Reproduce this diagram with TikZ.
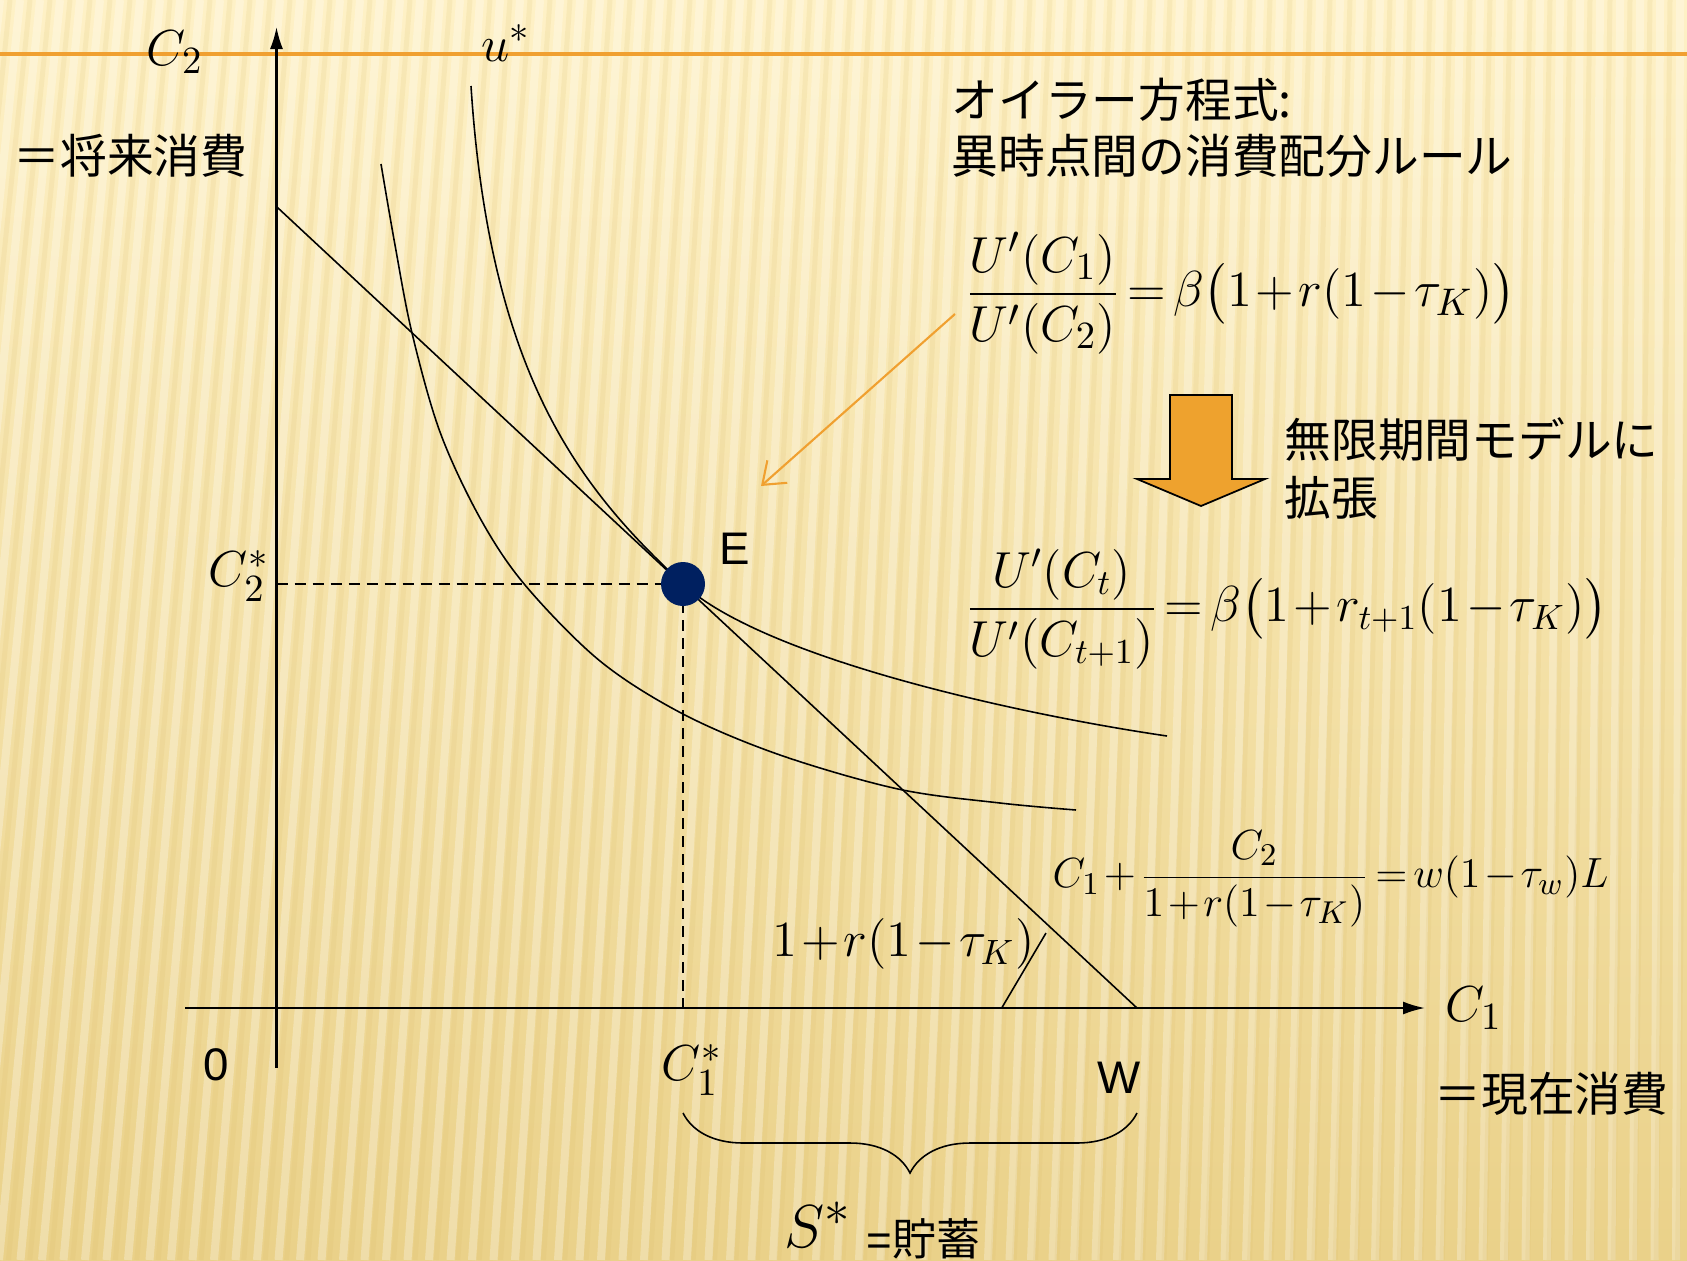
\documentclass[tikz,border=0pt]{standalone}
\usepackage{amsmath}
\usepackage{fontspec}
\setmainfont{Liberation Serif}
\setsansfont{Liberation Sans}
\newfontfamily\jpfont{Noto Sans CJK JP}
\usetikzlibrary{arrows.meta, decorations.pathreplacing, positioning}
\definecolor{corange}{HTML}{F0A030}
\definecolor{cblock}{HTML}{EEA22E}
\definecolor{cnavy}{HTML}{002060}
\definecolor{cbgtop}{HTML}{FEF1C6}
\definecolor{cbgmid}{HTML}{F8E6AE}
\definecolor{cbgbot}{HTML}{EAD189}
\definecolor{cstripe}{HTML}{D9B964}
\newcommand{\tightmath}{\medmuskip=1.5mu\thickmuskip=2.5mu}

\begin{document}
\begin{tikzpicture}[x=0.1mm, y=-0.1mm]
    \useasboundingbox (0,0) rectangle (1687,1260);
    \begin{scope}[
        axis/.style={line width=0.6pt, -{Latex[length=2.2mm, width=1.3mm]}},
        curve/.style={line width=0.45pt},
        guide/.style={line width=0.45pt, dash pattern=on 1.1mm off 0.7mm},
        jptext/.style={font=\jpfont\fontsize{13.3}{16}\selectfont, anchor=west, inner sep=0pt, align=left},
        eqtext/.style={font=\fontsize{15}{18}\selectfont\tightmath, inner sep=0pt},
        sftext/.style={font=\sffamily\fontsize{13}{16}\selectfont, inner sep=0pt},
        pointer/.style={draw=corange, line width=0.6pt, -{Straight Barb[length=2mm, width=3mm]}}
    ]
        % ================= BACKGROUND =================
        \shade[top color=cbgtop, middle color=cbgmid, bottom color=cbgbot] (0,0) rectangle (1687,1260);
        \begin{scope}
            \clip (0,0) rectangle (1687,1260);
            \foreach \i in {0,...,86} {
                \draw[white, opacity=0.28, line width=0.8mm] (\i*20-130+\i*1.5, 1260) -- (\i*20, 0);
                \draw[cstripe, opacity=0.14, line width=0.5mm] (\i*20-120+\i*1.4, 1260) -- (\i*20+10, 0);
            }
        \end{scope}
        \coordinate (tl) at (0,54);
        \coordinate (tr) at (1687,54);
        \draw[corange, line width=1.2pt] (tl) -- (tr);

        % ================= AXES =================
        \coordinate (O) at (276.5,1008);
        \coordinate (ytop) at (276.5,27);
        \coordinate (ybot) at (276.5,1068);
        \coordinate (xleft) at (185,1008);
        \coordinate (xright) at (1425,1008);
        \draw[axis] (ybot) -- (ytop);
        \draw[axis] (xleft) -- (xright);

        % ================= BUDGET LINE & CURVES =================
        \coordinate (budgetA) at (276.5,206.6);
        \coordinate (budgetW) at (1137,1008);
        \coordinate (Ept) at (683,584);
        \draw[guide] (Ept -| O) -- (Ept);
        \draw[guide] (Ept) -- (Ept |- O);
        \draw[curve] (budgetA) -- (budgetW);
        \draw[curve] (471,86) .. controls (490,380) and (583,491) .. (Ept)
            .. controls (763,658) and (1017,714) .. (1167,736);
        \draw[curve] plot[smooth, tension=0.55] coordinates {(381,164) (395,245) (412,333) (440,432) (480,518) (525,585) (600,661) (683,714) (780,755) (898,789) (1000,803) (1076,810)};
        \node[circle, fill=cnavy, minimum size=4.4mm, inner sep=0pt] (E) at (Ept) {};
        \coordinate (tick1) at (1001.7,1008);
        \coordinate (tick2) at (1046,933);
        \draw[curve] (tick1) -- (tick2);

        % ================= AXIS LABELS =================
        \node[eqtext] (c2axis) at (175,52) {$C_2$};
        \node[eqtext] (ustar) at (506,43) {$u^{*}$};
        \node[jptext] (future) at (13,156) {＝将来消費};
        \node[eqtext] (c1axis) at (1474,1008) {$C_1$};
        \node[jptext] (present) at (1434,1094) {＝現在消費};
        \node[sftext] (zero) at (216,1065) {0};
        \node[sftext] (Elabel) at (735,549) {E};
        \node[eqtext] (c2star) at (239,576) {$C^{*}_{2}$};
        \node[eqtext] (c1star) at (692,1070) {$C^{*}_{1}$};
        \node[sftext] (wealth) at (1119,1078) {W};

        % ================= SAVINGS BRACE =================
        \coordinate (braceR) at (1137,1113);
        \coordinate (braceL) at (683,1113);
        \draw[curve, decorate, decoration={brace, amplitude=6mm}] (braceR) -- (braceL);
        \node[eqtext, font=\fontsize{19}{22}\selectfont] (sstar) at (818,1225) {$S^{*}$};
        \node[inner sep=0pt, anchor=west] (saving) at (866,1239) {\sffamily\fontsize{12.5}{15}\selectfont =\jpfont 貯蓄};

        % ================= EULER EQUATION =================
        \node[jptext] (euler) at (951,128) {オイラー方程式:\\異時点間の消費配分ルール};
        \node[eqtext, anchor=west] (eqone) at (965,293) {$\dfrac{U'(C_1)}{U'(C_2)}=\beta\big(1+r(1-\tau_K)\big)$};
        \coordinate (ptrstart) at (955,314);
        \coordinate (ptrend) at (761,486);
        \draw[pointer] (ptrstart) -- (ptrend);

        \draw[fill=cblock, line width=0.5pt] (1170,395) -- (1232,395) -- (1232,479) -- (1265,479)
            -- (1201,506) -- (1137,479) -- (1170,479) -- cycle;
        \node[jptext, font=\jpfont\fontsize{13.3}{16.5}\selectfont] (infinite) at (1284,468) {無限期間モデルに\\拡張};
        \node[eqtext, anchor=west, font=\fontsize{14.6}{18}\selectfont\tightmath] (eqtwo) at (965,609) {$\dfrac{U'(C_t)}{U'(C_{t+1})}=\beta\big(1+r_{t+1}(1-\tau_K)\big)$};

        % ================= BUDGET CONSTRAINT =================
        \node[eqtext, anchor=west, font=\fontsize{13.2}{16}\selectfont\tightmath] (budget) at (1052,879) {$C_1+\dfrac{C_2}{1+r(1-\tau_K)}=w(1-\tau_w)L$};
        \node[eqtext, anchor=east, font=\fontsize{14}{17}\selectfont\tightmath] (slope) at (1035,944) {$1+r(1-\tau_K)$};
    \end{scope}
\end{tikzpicture}
\end{document}
